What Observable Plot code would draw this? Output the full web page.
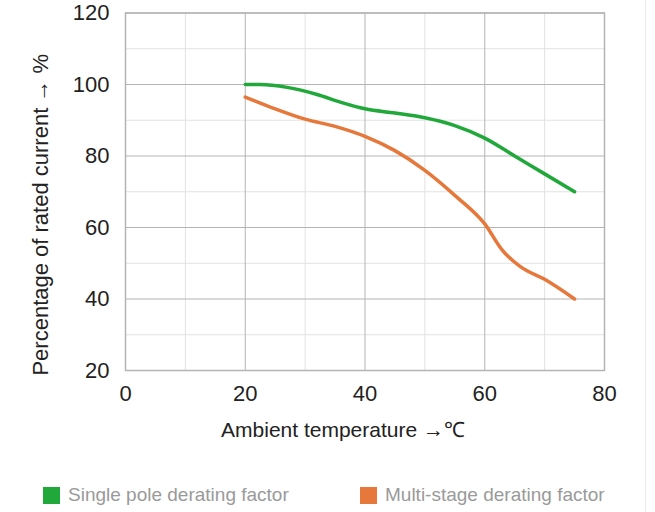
<!DOCTYPE html>
<html>
<head>
<meta charset="utf-8">
<script src="https://cdn.jsdelivr.net/npm/d3@7"></script>
<script src="https://cdn.jsdelivr.net/npm/@observablehq/plot@0.6"></script>
<style>
  body { margin: 0; background: #fff; font-family: "Liberation Sans", Arial, sans-serif; }
  #wrap { position: relative; width: 655px; height: 512px; }
  .leg { position: absolute; top: 484px; display: flex; align-items: center; font-size: 19px; color: #9a9a9a; }
  .sw { width: 17px; height: 17px; margin-right: 8px; }
  #border { position: absolute; left: 645px; top: 0; width: 1px; height: 512px; background: #ececec; }
</style>
</head>
<body>
<div id="wrap"><div id="chart"></div><div id="border"></div></div>
<script>
const seriesNames = ["Single pole derating factor", "Multi-stage derating factor"];
const seriesColors = ["#21a83a", "#e5783a"];
const singleTemp = [20, 22.5, 27, 32, 36, 40, 45, 50, 55, 60, 65, 70, 75];
const singleValue = [100, 100, 99.2, 97.2, 95, 93.2, 92, 90.7, 88.5, 85, 80, 75, 70];
const multiTemp = [20, 25, 30, 35, 40, 45, 50, 55, 60, 63, 66, 70, 75];
const multiValue = [96.5, 93.2, 90.3, 88.3, 85.5, 81.5, 76, 69, 61, 53.5, 49, 45.5, 40];
const xTicks = [0, 20, 40, 60, 80];
const yTicks = [20, 40, 60, 80, 100, 120];
const xMinor = [10, 30, 50, 70];
const yMinor = [30, 50, 70, 90, 110];
const xLabel = "Ambient temperature \u2192\u2103";
const yLabel = "Percentage of rated current \u2192 %";

const data = [
  ...singleTemp.map((t, i) => ({t, v: singleValue[i], s: seriesNames[0]})),
  ...multiTemp.map((t, i) => ({t, v: multiValue[i], s: seriesNames[1]}))
];

const chart = Plot.plot({
  width: 655,
  height: 460,
  marginTop: 12.5,
  marginLeft: 125,
  marginRight: 51,
  marginBottom: 90,
  style: {fontFamily: "'Liberation Sans', Arial, sans-serif", fontSize: "22px", color: "#222", background: "transparent"},
  x: {domain: [0, 80]},
  y: {domain: [20, 120]},
  color: {domain: seriesNames, range: seriesColors},
  marks: [
    Plot.ruleX(xMinor, {stroke: "#e2e2e2", strokeWidth: 1, strokeOpacity: 1}),
    Plot.ruleY(yMinor, {stroke: "#e2e2e2", strokeWidth: 1, strokeOpacity: 1}),
    Plot.ruleX(xTicks, {stroke: "#b4b4b4", strokeWidth: 1, strokeOpacity: 1}),
    Plot.ruleY(yTicks, {stroke: "#b4b4b4", strokeWidth: 1, strokeOpacity: 1}),
    Plot.frame({stroke: "#b4b4b4", strokeWidth: 1.5}),
    Plot.line(data, {x: "t", y: "v", z: "s", stroke: "s", strokeWidth: 3.5, curve: "monotone-x"}),
    Plot.axisX({ticks: xTicks, tickSize: 0, tickPadding: 15, label: null, fontSize: 22}),
    Plot.axisY({ticks: yTicks, tickSize: 0, tickPadding: 16, label: null, fontSize: 22}),
    Plot.text([xLabel], {frameAnchor: "bottom", dx: -22, dy: 66, fontSize: 21, fill: "#222"}),
    Plot.text([yLabel], {frameAnchor: "left", textAnchor: "middle", dx: -85, dy: 23, rotate: -90, fontSize: 22, fill: "#222"})
  ]
});
document.getElementById("chart").appendChild(chart);

const wrap = document.getElementById("wrap");
const lefts = [43, 360];
seriesNames.forEach((name, i) => {
  const d = document.createElement("div");
  d.className = "leg";
  d.style.left = lefts[i] + "px";
  d.innerHTML = `<div class="sw" style="background:${seriesColors[i]}"></div><span>${name}</span>`;
  wrap.appendChild(d);
});
</script>
</body>
</html>
